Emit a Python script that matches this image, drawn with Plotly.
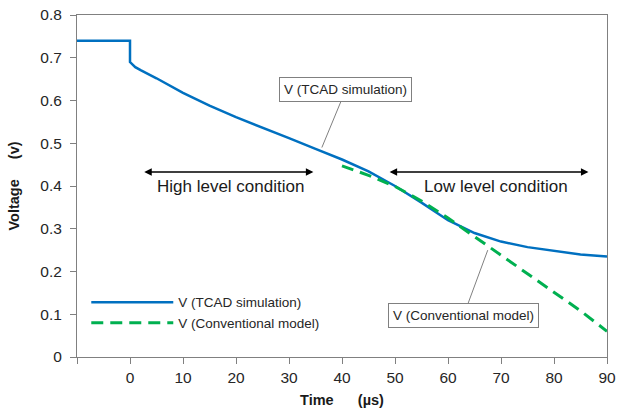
import plotly.graph_objects as go

# TCAD simulation voltage (V) vs time (µs)
tcad_t = [-10, 0, 0, 0.5, 1, 2, 5, 10, 15, 20, 25, 30, 35, 40, 45, 50, 55, 60, 65, 70, 75, 80, 85, 90]
tcad_v = [0.74, 0.74, 0.69, 0.683, 0.678, 0.671, 0.652, 0.618, 0.588, 0.561, 0.537, 0.512, 0.487, 0.462, 0.434, 0.400, 0.361, 0.320, 0.290, 0.270, 0.257, 0.248, 0.240, 0.235]

# Conventional model voltage
conv_t = [40, 45, 50, 55, 60, 65, 70, 75, 80, 85, 90]
conv_v = [0.447, 0.425, 0.399, 0.365, 0.325, 0.282, 0.238, 0.195, 0.153, 0.108, 0.060]

x_ticks = [-10, 0, 10, 20, 30, 40, 50, 60, 70, 80, 90]
x_tick_text = ["", "0", "10", "20", "30", "40", "50", "60", "70", "80", "90"]
y_ticks = [0, 0.1, 0.2, 0.3, 0.4, 0.5, 0.6, 0.7, 0.8]
y_tick_text = ["0", "0.1", "0.2", "0.3", "0.4", "0.5", "0.6", "0.7", "0.8"]

FONT = "Liberation Sans, Arial, sans-serif"
BLUE = "#0070C0"
GREEN = "#00B050"

fig = go.Figure()
fig.add_trace(go.Scatter(x=tcad_t, y=tcad_v, mode="lines", name="V (TCAD simulation)",
                         line=dict(color=BLUE, width=2.5)))
fig.add_trace(go.Scatter(x=conv_t, y=conv_v, mode="lines", name="V (Conventional model)",
                         line=dict(color=GREEN, width=3, dash="12px,7px")))

# Double arrows for regions
for x0, x1 in [(2.4, 34.6), (48.7, 86.5)]:
    fig.add_annotation(x=x1, y=0.433, ax=x0, ay=0.433, xref="x", yref="y", axref="x", ayref="y",
                       showarrow=True, arrowhead=2, arrowside="end+start", arrowsize=1,
                       arrowwidth=1.5, arrowcolor="black", text="")

fig.add_annotation(x=19, y=0.400, xref="x", yref="y", text="High level condition", showarrow=False,
                   font=dict(size=17, color="#1a1a1a", family=FONT))
fig.add_annotation(x=69, y=0.400, xref="x", yref="y", text="Low level condition", showarrow=False,
                   font=dict(size=17, color="#1a1a1a", family=FONT))

# Callout labels
fig.add_annotation(x=36.2, y=0.490, xref="x", yref="y", text="V (TCAD simulation)",
                   showarrow=True, arrowhead=0, arrowwidth=1, arrowcolor="#808080",
                   ax=24, ay=-58, bordercolor="#808080", borderwidth=1, borderpad=4,
                   bgcolor="white", font=dict(size=13.5, color="#262626", family=FONT))
fig.add_annotation(x=67.5, y=0.250, xref="x", yref="y", text="V (Conventional model)",
                   showarrow=True, arrowhead=0, arrowwidth=1, arrowcolor="#808080",
                   ax=-24, ay=65, bordercolor="#808080", borderwidth=1, borderpad=4,
                   bgcolor="white", font=dict(size=13.5, color="#262626", family=FONT))

fig.update_layout(
    width=617, height=409,
    margin=dict(l=77, r=10, t=15, b=52, autoexpand=False),
    paper_bgcolor="white", plot_bgcolor="white",
    font=dict(family=FONT, color="#262626"),
    showlegend=True,
    legend=dict(x=0.0175, y=0.205, xanchor="left", yanchor="top", bgcolor="rgba(0,0,0,0)",
                itemwidth=82,
                font=dict(size=13.5, color="#262626", family=FONT), tracegroupgap=0),
    xaxis=dict(range=[-10, 90], tickvals=x_ticks, ticktext=x_tick_text, showgrid=False,
               automargin=False,
               zeroline=False, showline=True, linecolor="#808080", linewidth=1, mirror=True,
               ticks="outside", ticklen=6, tickcolor="#808080",
               tickfont=dict(size=15.5, color="#262626", family=FONT),
               title=dict(text="<b>Time" + "\u00a0" * 6 + "(µs)</b>", standoff=10,
                          font=dict(size=14.5, color="#1a1a1a", family=FONT))),
    yaxis=dict(range=[0, 0.8], tickvals=y_ticks, ticktext=y_tick_text, showgrid=False,
               automargin=False,
               zeroline=False, showline=True, linecolor="#808080", linewidth=1, mirror=True,
               ticks="outside", ticklen=6, tickcolor="#808080", ticklabelstandoff=5,
               tickfont=dict(size=15.5, color="#262626", family=FONT),
               title=dict(text="<b>Voltage" + "\u00a0" * 5 + "(v)</b>", standoff=17,
                          font=dict(size=14.5, color="#1a1a1a", family=FONT))),
)

fig.write_html("out.html", config={"displayModeBar": False},
               post_script="document.body.style.margin='0';document.body.style.overflow='hidden';")
